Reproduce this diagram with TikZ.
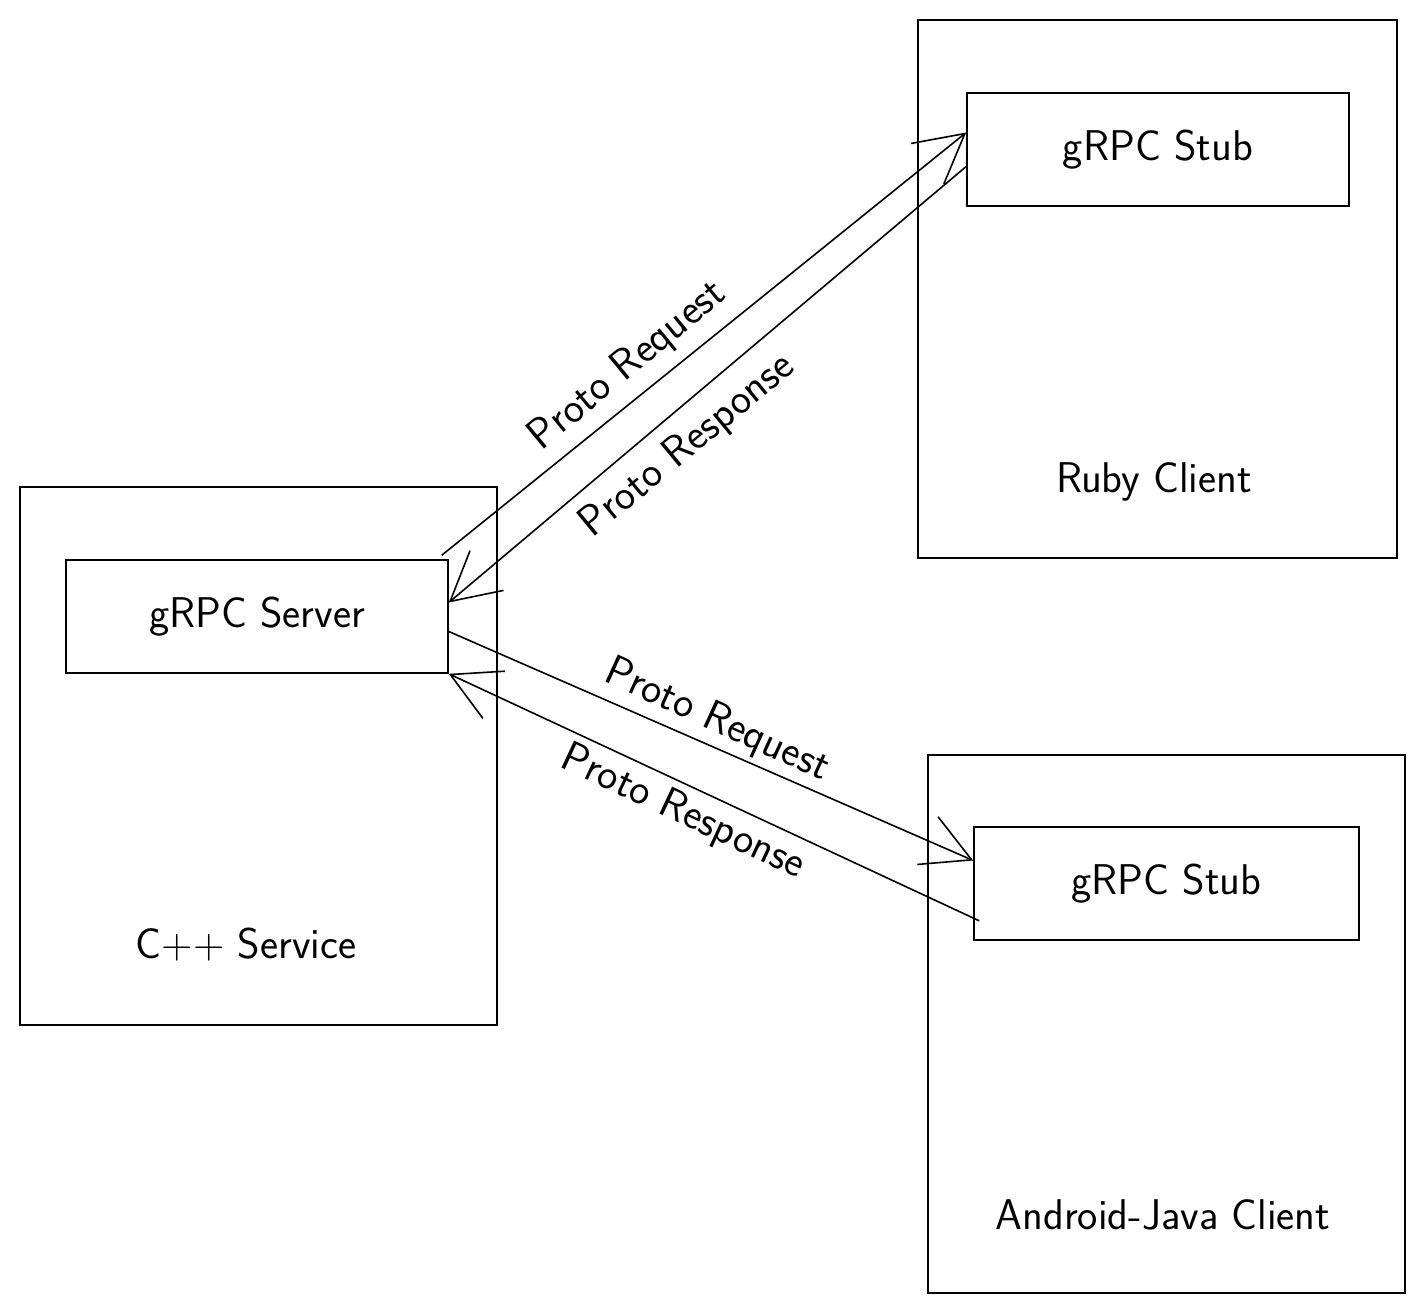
\documentclass[tikz,border=0pt]{standalone}
\usetikzlibrary{arrows.meta}

\begin{document}
\begin{tikzpicture}[x=1pt, y=-1pt, line width=1.6pt,
    box/.style={draw, rectangle, inner sep=0pt},
    txt/.style={font=\sffamily\fontsize{43}{45}\selectfont},
    msg/.style={-{Straight Barb[length=48pt,width=52pt]}}]
            \useasboundingbox (0,0) rectangle (1425,1312);

            % outer boxes
            \node[box, minimum width=477pt, minimum height=538pt] (cpp)  at (258.5, 756) {};
            \node[box, minimum width=479pt, minimum height=538pt] (ruby) at (1157.5, 289) {};
            \node[box, minimum width=477pt, minimum height=538pt] (andr) at (1166.5,1024) {};

            % inner boxes
            \node[box, txt, minimum width=382pt, minimum height=113pt] (srv)   at (257, 616.5) {gRPC Server};
            \node[box, txt, minimum width=382pt, minimum height=113pt] (stubR) at (1158, 149.5) {gRPC Stub};
            \node[box, txt, minimum width=385pt, minimum height=113pt] (stubA) at (1166.5, 883.5) {gRPC Stub};

            \node[txt] (cppL)  at (246, 945)   {C++ Service};
            \node[txt] (rubyL) at (1154, 482)  {Ruby Client};
            \node[txt] (andrL) at (1163, 1215) {Android-Java Client};

            % ruby side
            \draw[msg] ([xshift=-7pt, yshift=4pt]srv.north east) -- ([yshift=17pt]stubR.west);
            \draw[msg] ([yshift=-17pt]stubR.west) -- ([yshift=14pt]srv.east);
            \node[txt, rotate=39.5]  (reqR) at (628, 366) {Proto Request};
            \node[txt, rotate=39.5]  (resR) at (688, 446) {Proto Response};

            % android side
            \draw[msg] ([yshift=-15pt]srv.east) -- ([yshift=23pt]stubA.west);
            \draw[msg] ([xshift=6pt, yshift=20pt]stubA.south west) -- (srv.south east);
            \node[txt, rotate=-24.5] (reqA) at (717, 721) {Proto Request};
            \node[txt, rotate=-25]   (resA) at (683, 813) {Proto Response};
        \end{tikzpicture}
\end{document}
